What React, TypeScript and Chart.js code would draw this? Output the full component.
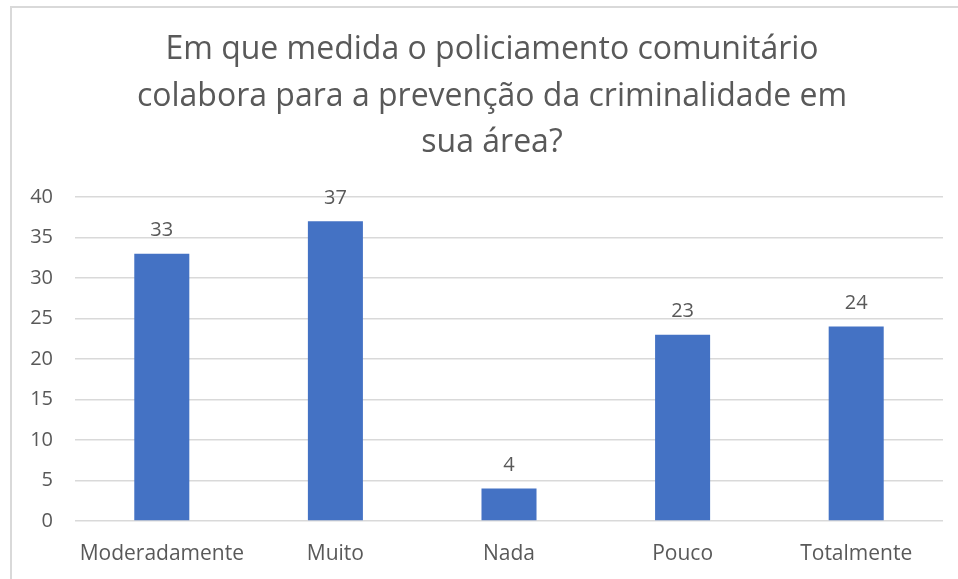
import React, { useEffect, useRef } from "react";
import { Chart, registerables } from "chart.js";

Chart.register(...registerables);

const titleLines = [
  "Em que medida o policiamento comunitário",
  "colabora para a prevenção da criminalidade em",
  "sua área?",
];
const categories = ["Moderadamente", "Muito", "Nada", "Pouco", "Totalmente"];
const values = [33, 37, 4, 23, 24];
const yMin = 0;
const yMax = 40;
const yStep = 5;

const FONT = "'Open Sans', 'Noto Sans', sans-serif";
const TEXT = "#595959";

const dataLabelPlugin = {
  id: "dataLabels",
  afterDatasetsDraw(chart: any) {
    const ctx = chart.ctx;
    const meta = chart.getDatasetMeta(0);
    ctx.save();
    ctx.font = `20px ${FONT}`;
    ctx.fillStyle = TEXT;
    ctx.textAlign = "center";
    ctx.textBaseline = "bottom";
    meta.data.forEach((bar: any, i: number) => {
      ctx.fillText(String(chart.data.datasets[0].data[i]), bar.x, bar.y - 13);
    });
    ctx.restore();
  },
};

const centeredTitlePlugin = {
  id: "centeredTitle",
  afterDraw(chart: any) {
    const ctx = chart.ctx;
    ctx.save();
    ctx.font = `32px ${FONT}`;
    ctx.fillStyle = TEXT;
    ctx.textAlign = "center";
    ctx.textBaseline = "middle";
    const cx = chart.width / 2;
    titleLines.forEach((line, i) => {
      ctx.fillText(line, cx, 42 + i * 46.5);
    });
    ctx.restore();
  },
};

export default function App() {
  const ref = useRef<HTMLCanvasElement | null>(null);
  useEffect(() => {
    if (!ref.current) return;
    const chart = new Chart(ref.current, {
      type: "bar",
      data: {
        labels: categories,
        datasets: [
          {
            data: values,
            backgroundColor: "#4472C4",
            borderWidth: 0,
            barPercentage: 0.317,
            categoryPercentage: 1,
          },
        ],
      },
      options: {
        animation: false,
        responsive: false,
        maintainAspectRatio: false,
        layout: { padding: { left: 0, right: 29, top: 189, bottom: 0 } },
        plugins: {
          legend: { display: false },
          tooltip: { enabled: false },
          title: { display: false },
        },
        scales: {
          x: {
            grid: { display: false },
            border: { display: false },
            ticks: {
              color: TEXT,
              font: { family: FONT, size: 21 },
              padding: 12,
              maxRotation: 0,
              autoSkip: false,
            },
            afterFit: (s: any) => {
              s.height = 58;
            },
          },
          y: {
            min: yMin,
            max: yMax,
            grid: { color: "#d9d9d9", lineWidth: 1.5, drawTicks: false },
            border: { display: false },
            ticks: {
              stepSize: yStep,
              color: TEXT,
              font: { family: FONT, size: 20 },
              padding: 22,
            },
            afterFit: (s: any) => {
              s.width = 63;
            },
          },
        },
      },
      plugins: [dataLabelPlugin, centeredTitlePlugin],
    });
    return () => chart.destroy();
  }, []);

  return (
    <div
      style={{
        position: "absolute",
        left: 0,
        top: 0,
        width: 958,
        height: 579,
        overflow: "hidden",
        background: "#fff",
      }}
    >
      <div
        style={{
          position: "absolute",
          left: 10,
          top: 6,
          width: 960,
          height: 600,
          border: "2px solid #d9d9d9",
          background: "#fff",
        }}
      >
        <canvas ref={ref} width={960} height={571} style={{ display: "block" }} />
      </div>
    </div>
  );
}
